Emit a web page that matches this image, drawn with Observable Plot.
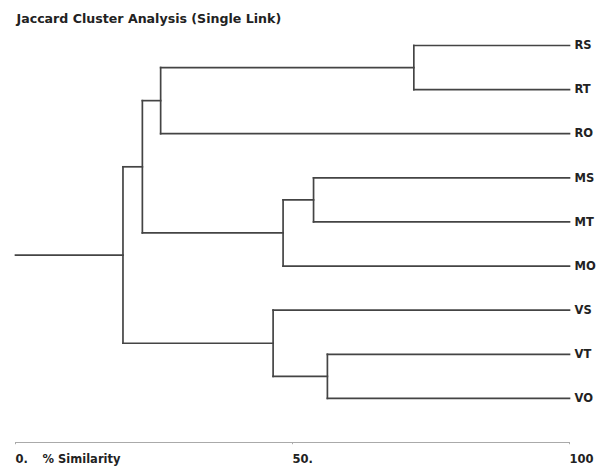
<!DOCTYPE html>
<html>
<head>
<meta charset="utf-8">
<script src="https://cdn.jsdelivr.net/npm/d3@7"></script>
<script src="https://cdn.jsdelivr.net/npm/@observablehq/plot@0.6"></script>
<style>
  html, body { margin: 0; padding: 0; background: #fff; }
  svg { display: block; font-family: "DejaVu Sans", "Liberation Sans", Arial, sans-serif; }
</style>
</head>
<body>
<div id="chart"></div>
<script>
const title = "Jaccard Cluster Analysis (Single Link)";
const axisLabel = "% Similarity";
// leaves in display order (top to bottom)
const leaves = ["RS", "RT", "RO", "MS", "MT", "MO", "VS", "VT", "VO"];
// merges (single-link), similarity in %
const mergeIds   = ["A",  "B",  "C",  "D",  "E",  "F",  "G",  "H"];
const mergeLeft  = ["RS", "A",  "MS", "C",  "B",  "VT", "VS", "E"];
const mergeRight = ["RT", "RO", "MT", "MO", "D",  "VO", "F",  "G"];
const mergeSim   = [71.9, 26.2, 53.8, 48.3, 22.9, 56.3, 46.5, 19.4];
const tickValues = [0, 50, 100];
const tickLabels = ["0.", "50.", "100"];

// build node positions
const node = new Map();
leaves.forEach((l, i) => node.set(l, {x: 100, y: i}));
const segs = [];
mergeIds.forEach((id, k) => {
  const a = node.get(mergeLeft[k]), b = node.get(mergeRight[k]);
  const s = mergeSim[k];
  segs.push({x1: s, y1: a.y, x2: s, y2: b.y});
  segs.push({x1: s, y1: a.y, x2: a.x, y2: a.y});
  segs.push({x1: s, y1: b.y, x2: b.x, y2: b.y});
  node.set(id, {x: s, y: (a.y + b.y) / 2});
});
const root = node.get(mergeIds[mergeIds.length - 1]);
segs.push({x1: 0, y1: root.y, x2: root.x, y2: root.y});

const chart = Plot.plot({
  width: 605,
  height: 469,
  marginLeft: 15,
  marginRight: 36,
  marginTop: 45,
  marginBottom: 27,
  x: {domain: [0, 100], axis: null},
  y: {domain: [0, 9], axis: null, reverse: true},
  marks: [
    Plot.link(segs, {x1: "x1", y1: "y1", x2: "x2", y2: "y2", stroke: "#444", strokeWidth: 1.7, strokeLinecap: "square"}),
    Plot.text(leaves, {x: 100, y: (d, i) => i, text: d => d, textAnchor: "start", dx: 5, fontSize: 11.5, fontWeight: "bold", fill: "#222"}),
    Plot.ruleY([9], {x1: 0, x2: 100, stroke: "#aaa", strokeWidth: 1}),
    Plot.ruleX(tickValues, {y1: 9, y2: 9.05, stroke: "#aaa"}),
    Plot.text(tickValues, {x: d => d, y: 9, text: (d, i) => tickLabels[i], textAnchor: "start", dy: 17, fontSize: 11.5, fontWeight: "bold", fill: "#222"}),
    Plot.text([axisLabel], {x: 0, y: 9, text: d => d, textAnchor: "start", dx: 27, dy: 17, fontSize: 11.5, fontWeight: "bold", fill: "#222"}),
    Plot.text([title], {frameAnchor: "top-left", text: d => d, textAnchor: "start", dx: 1, dy: -31, fontSize: 12.6, fontWeight: "bold", fill: "#222"})
  ]
});
document.getElementById("chart").appendChild(chart);
</script>
</body>
</html>
